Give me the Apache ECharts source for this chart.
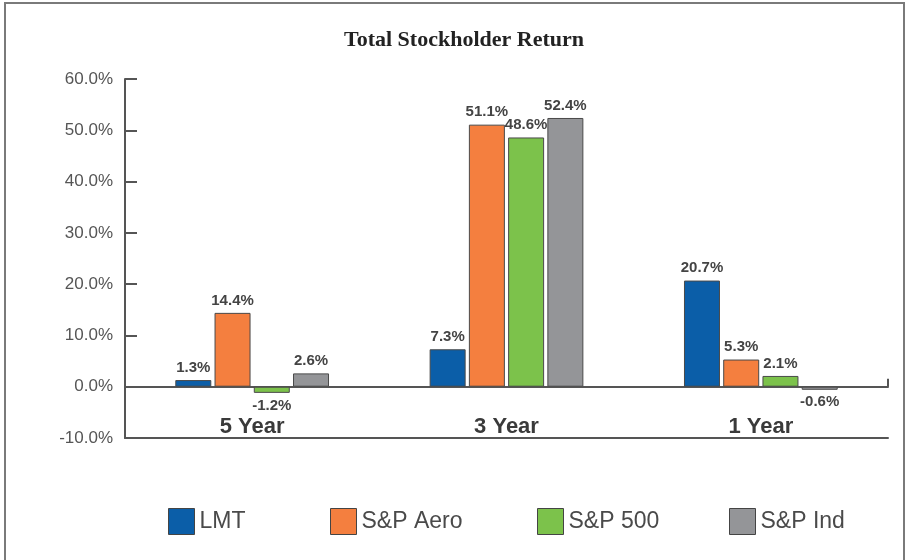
<!DOCTYPE html>
<html>
<head>
<meta charset="utf-8">
<script src="https://cdn.jsdelivr.net/npm/echarts@6/dist/echarts.min.js"></script>
<style>
  html, body { margin: 0; padding: 0; background: #fff; }
  #main { width: 909px; height: 560px; }
</style>
</head>
<body>
<div id="main"></div>
<script>
    // data
    const periods = ['5 Year', '3 Year', '1 Year'];
    const seriesNames = ['LMT', 'S&P Aero', 'S&P 500', 'S&P Ind'];
    const lmt = [1.3, 7.3, 20.7];
    const spAero = [14.4, 51.1, 5.3];
    const sp500 = [-1.2, 48.6, 2.1];
    const spInd = [2.6, 52.4, -0.6];
    const colors = ['#0b5ea8', '#f47f3f', '#7cc24b', '#949598'];
    const legendLeft = [168, 330, 537, 729];

    const values = [lmt, spAero, sp500, spInd];

    let myChart = echarts.init(document.getElementById('main'));

    // negative bars get their label underneath
    function toData(arr) {
        return arr.map(function (v) {
            if (v < 0) {
                return { value: v, label: { position: 'bottom' } };
            }
            return v;
        });
    }

    const series = seriesNames.map(function (name, i) {
        return {
            name: name,
            type: 'bar',
            xAxisIndex: 0,
            data: toData(values[i]),
            barWidth: 36,
            barGap: '9%',
            itemStyle: { color: colors[i], borderColor: '#4a4a4a', borderWidth: 1 },
            label: {
                show: true,
                position: 'top',
                distance: 5,
                formatter: function (p) { return p.value.toFixed(1) + '%'; },
                fontFamily: 'Arial, sans-serif',
                fontWeight: 'bold',
                fontSize: 15,
                color: '#444'
            }
        };
    });

    const legends = seriesNames.map(function (name, i) {
        return {
            data: [{ name: name, icon: 'rect' }],
            left: legendLeft[i],
            top: 508,
            itemWidth: 26,
            itemHeight: 26,
            itemGap: 4,
            padding: 0,
            itemStyle: { borderColor: '#444', borderWidth: 1 },
            textStyle: { fontFamily: 'Arial, sans-serif', fontSize: 23, color: '#4a4a4a' }
        };
    });

    myChart.setOption({
        animation: false,
        title: {
            text: 'Total Stockholder Return',
            left: 459,
            textAlign: 'center',
            top: 24,
            textStyle: {
                fontFamily: 'Liberation Serif, Times New Roman, serif',
                fontWeight: 'bold',
                fontSize: 22,
                color: '#222'
            }
        },
        legend: legends,
        graphic: [{
            type: 'rect',
            shape: { x: 5, y: 3, width: 899, height: 620 },
            style: { fill: 'none', stroke: '#7a7a7a', lineWidth: 2 },
            silent: true
        }],
        grid: { left: 125, right: 21, top: 79, bottom: 122 },
        xAxis: [
            {
                type: 'category',
                data: periods,
                position: 'bottom',
                axisLine: { onZero: false, lineStyle: { color: '#555', width: 2 } },
                axisTick: { inside: true, length: 8, lineStyle: { color: '#555', width: 2 } },
                axisLabel: {
                    inside: true,
                    margin: 0,
                    fontFamily: 'Arial, sans-serif',
                    fontWeight: 'bold',
                    fontSize: 22,
                    color: '#3a3a3a'
                }
            },
            {
                // the line at 0.0%
                type: 'value',
                position: 'bottom',
                min: 0,
                max: 1,
                interval: 1,
                axisLine: { onZero: true, lineStyle: { color: '#555', width: 2 } },
                axisTick: { show: true, inside: true, length: 8, lineStyle: { color: '#555', width: 2 } },
                axisLabel: { show: false },
                splitLine: { show: false }
            }
        ],
        yAxis: {
            type: 'value',
            min: -10,
            max: 60,
            interval: 10,
            axisLine: { show: true, lineStyle: { color: '#555', width: 2 } },
            axisTick: { show: true, inside: true, length: 12, lineStyle: { color: '#555', width: 2 } },
            splitLine: { show: false },
            axisLabel: {
                margin: 12,
                formatter: function (v) { return v.toFixed(1) + '%'; },
                fontFamily: 'Arial, sans-serif',
                fontSize: 17,
                color: '#555'
            }
        },
        series: series
    });
</script>
</body>
</html>
